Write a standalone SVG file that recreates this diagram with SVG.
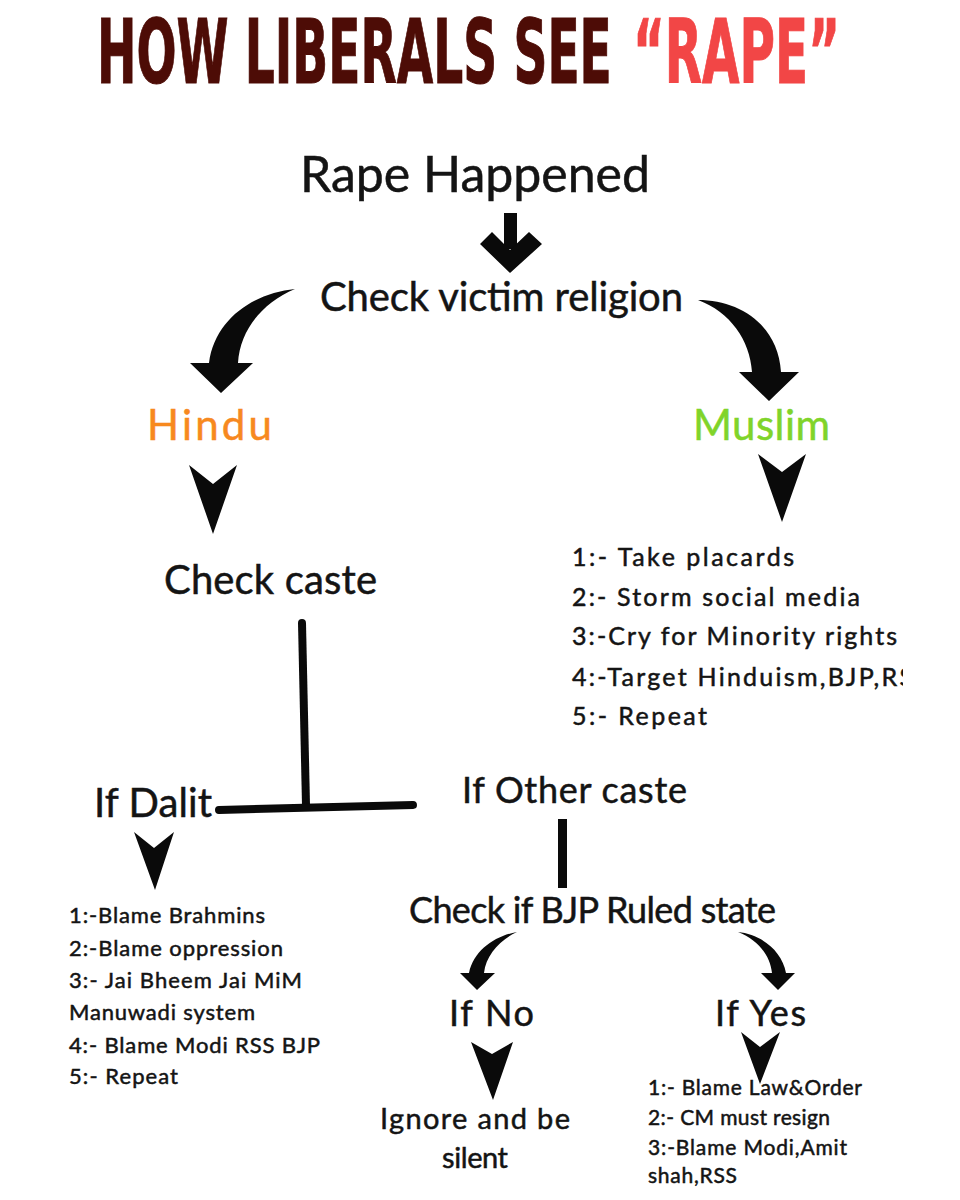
<svg xmlns="http://www.w3.org/2000/svg" width="960" height="1200" viewBox="0 0 960 1200">
<style>
.t{font-family:Lato,"Noto Sans","DejaVu Sans",sans-serif;fill:#141414;stroke:#141414;stroke-width:0.5}
.ti{font-family:"Liberation Sans Narrow","DejaVu Sans Condensed","Liberation Sans",sans-serif;font-weight:bold}
.ar{fill:#0a0a0a}
.ln{stroke:#0a0a0a;stroke-width:8;stroke-linecap:round;fill:none}
</style>
<defs>
<clipPath id="clipR"><rect x="0" y="0" width="903" height="1200"/></clipPath>
</defs>
<rect width="960" height="1200" fill="#ffffff"/>
<g id="title">
<text class="ti" transform="translate(97,83) scale(0.6,1)" x="0" y="0" font-size="89" fill="#4d0c06" stroke="#4d0c06" stroke-width="1" textLength="858" lengthAdjust="spacingAndGlyphs">HOW LIBERALS SEE</text>
<text class="ti" transform="translate(633,83) scale(0.6,1)" x="0" y="0" font-size="89" fill="#f24646" stroke="#f24646" stroke-width="1" textLength="345" lengthAdjust="spacingAndGlyphs">“RAPE”</text>
</g>
<g id="rape-happened"><text class="t" x="300" y="192" font-size="50" textLength="350">Rape Happened</text></g>
<g id="check-religion"><text class="t" x="320" y="311" font-size="40" textLength="363">Check victim religion</text></g>
<g id="hindu"><text class="t" x="147" y="440" font-size="42" textLength="125" style="fill:#f7891f;stroke:#f7891f">Hindu</text></g>
<g id="muslim"><text class="t" x="693" y="440" font-size="42" textLength="137" style="fill:#80d42a;stroke:#80d42a">Muslim</text></g>
<g id="check-caste"><text class="t" x="164" y="594" font-size="40" textLength="213">Check caste</text></g>
<g id="muslim-list">
<text class="t" x="572" y="566" font-size="25" textLength="222">1:- Take placards</text>
<text class="t" x="572" y="606" font-size="25" textLength="288">2:- Storm social media</text>
<text class="t" x="572" y="645" font-size="25" textLength="325">3:-Cry for Minority rights</text>
<text class="t" x="572" y="686" font-size="25" textLength="341" clip-path="url(#clipR)">4:-Target Hinduism,BJP,RS</text>
<text class="t" x="572" y="725" font-size="25" textLength="135">5:- Repeat</text>
</g>
<g id="if-dalit"><text class="t" x="94" y="817" font-size="40" textLength="118">If Dalit</text></g>
<g id="if-other"><text class="t" x="462" y="803" font-size="36" textLength="225">If Other caste</text></g>
<g id="dalit-list">
<text class="t" x="69" y="923" font-size="22" textLength="196">1:-Blame Brahmins</text>
<text class="t" x="69" y="956" font-size="22" textLength="214">2:-Blame oppression</text>
<text class="t" x="69" y="988" font-size="22" textLength="233">3:- Jai Bheem Jai MiM</text>
<text class="t" x="69" y="1020" font-size="22" textLength="186">Manuwadi system</text>
<text class="t" x="69" y="1053" font-size="22" textLength="251">4:- Blame Modi RSS BJP</text>
<text class="t" x="69" y="1084" font-size="22" textLength="109">5:- Repeat</text>
</g>
<g id="check-bjp"><text class="t" x="409" y="923" font-size="36" textLength="367">Check if BJP Ruled state</text></g>
<g id="if-no"><text class="t" x="449" y="1026" font-size="36" textLength="85">If No</text></g>
<g id="if-yes"><text class="t" x="715" y="1026" font-size="36" textLength="91">If Yes</text></g>
<g id="ignore">
<text class="t" x="380" y="1129" font-size="29" textLength="190">Ignore and be</text>
<text class="t" x="442" y="1168" font-size="29" textLength="66">silent</text>
</g>
<g id="yes-list">
<text class="t" x="648" y="1095" font-size="21" textLength="214">1:- Blame Law&amp;Order</text>
<text class="t" x="648" y="1125" font-size="21" textLength="182">2:- CM must resign</text>
<text class="t" x="648" y="1155" font-size="21" textLength="199">3:-Blame Modi,Amit</text>
<text class="t" x="648" y="1183" font-size="21" textLength="89">shah,RSS</text>
</g>
<g id="connectors">
<rect class="ar" x="504" y="213" width="13" height="36"/>
<polygon class="ar" points="480,244 492,232 510,250 529,232 542,244 510,273"/>
<path class="ar" d="M295,289 C255,293 215,318 209,363 L190,363 L221,393 L253,363 L238,363 C240,330 262,303 295,289 Z"/>
<path class="ar" d="M698,300 C740,300 778,325 781,372 L799,372 L769,401 L739,372 L752,372 C750,340 730,312 698,300 Z"/>
<polygon class="ar" points="189,465 213,484 237,465 213,534"/>
<polygon class="ar" points="758,454 782,472 806,454 782,522"/>
<line class="ln" x1="302" y1="623" x2="306" y2="805"/>
<line class="ln" x1="219" y1="810" x2="413" y2="805"/>
<polygon class="ar" points="134,832 154,848 174,832 155,890"/>
<rect class="ar" x="558" y="819" width="9" height="69"/>
<path class="ar" d="M517,932 C495,936 474,950 469,973 L460,973 L477,990 L495,973 L484,973 C486,955 500,940 517,932 Z"/>
<path class="ar" d="M738,932 C760,934 782,950 786,973 L795,973 L778,990 L761,973 L772,973 C770,955 758,940 738,932 Z"/>
<polygon class="ar" points="471,1042 492,1054 513,1042 493,1100"/>
<polygon class="ar" points="741,1032 760,1047 780,1032 760,1084"/>
</g>
</svg>
